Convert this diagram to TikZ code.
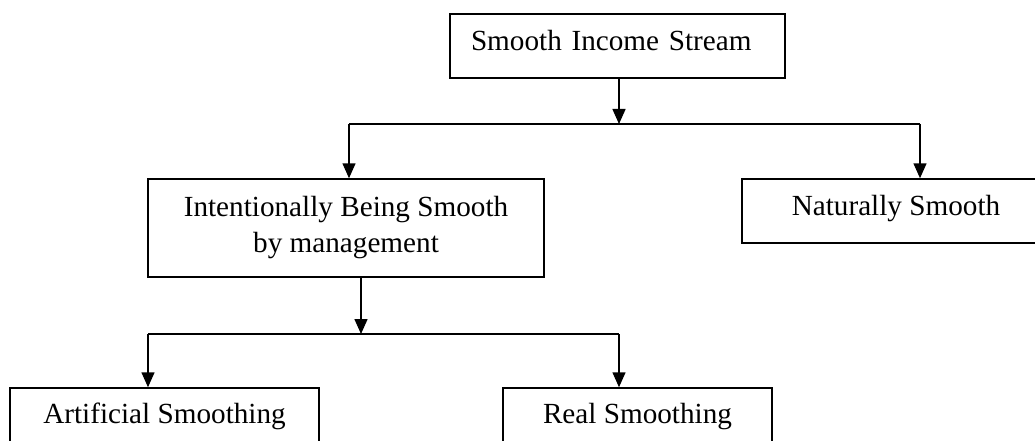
\documentclass[tikz,border=0pt]{standalone}
\usepackage{fontspec}
\setmainfont{Liberation Serif}
\usetikzlibrary{arrows.meta}
\tikzset{
  boxstyle/.style={draw=black, line width=1.5pt, inner ysep=0pt, inner xsep=0pt,
    font=\fontsize{29.2}{36}\selectfont},
  conn/.style={draw=black, line width=1.5pt},
  arr/.style={conn, -{Triangle[length=15pt,width=13pt]}}
}
\begin{document}
\begin{tikzpicture}[x=1pt,y=-1pt]
\useasboundingbox (0,0) rectangle (1035,441);
\clip (0,0) rectangle (1035,441);
\fill[white] (0,0) rectangle (1035,441);

\node[boxstyle, text width=293pt, align=left, inner xsep=21pt, text height=37pt, text depth=27pt]
  (top) at (617.5,46) {Smooth Income Stream};
\node[boxstyle, minimum width=396pt, minimum height=98pt, align=center]
  (intent) at (346,228) {Intentionally Being Smooth\\by management};
\node[boxstyle, minimum width=308pt, text height=36pt, text depth=28pt]
  (nat) at (896,211) {Naturally Smooth};
\node[boxstyle, minimum width=309pt, text height=35pt, text depth=29pt]
  (art) at (164.5,420) {Artificial Smoothing};
\node[boxstyle, minimum width=269pt, text height=35pt, text depth=29pt]
  (real) at (637.5,420) {Real Smoothing};

\coordinate (t1) at (619,124);
\coordinate (tl) at (349,124);
\coordinate (tr) at (920,124);
\draw[arr] (top.south -| t1) -- (t1);
\draw[conn] (tl) -- (tr);
\draw[arr] (tl) -- (tl |- intent.north);
\draw[arr] (tr) -- (tr |- nat.north);

\coordinate (b1) at (361,334);
\coordinate (bl) at (148,334);
\coordinate (br) at (619,334);
\draw[arr] (intent.south -| b1) -- (b1);
\draw[conn] (bl) -- (br);
\draw[arr] (bl) -- (bl |- art.north);
\draw[arr] (br) -- (br |- real.north);
\end{tikzpicture}
\end{document}
